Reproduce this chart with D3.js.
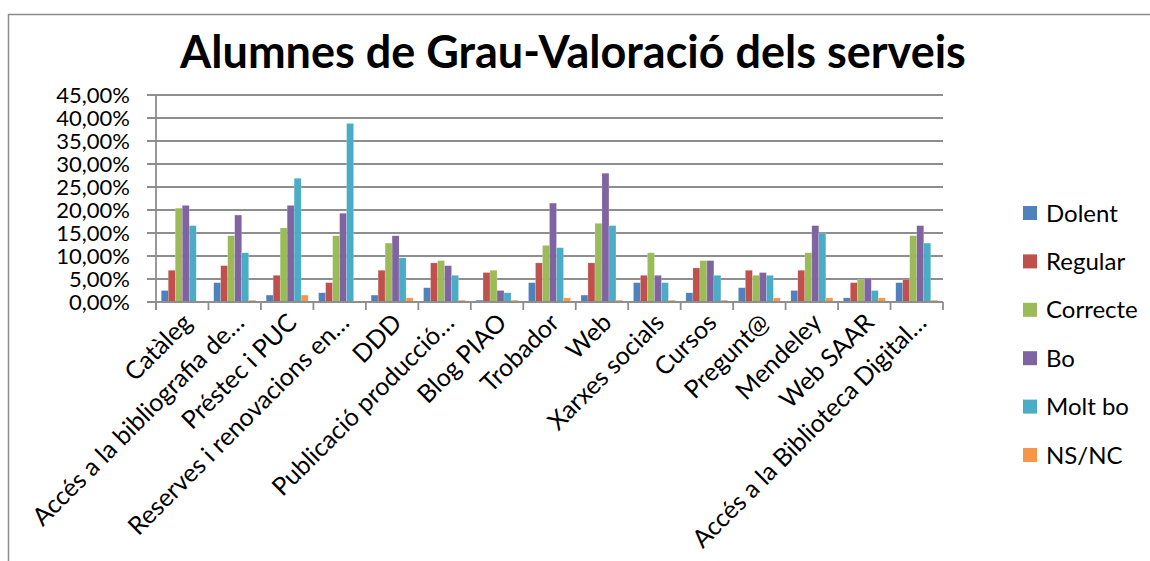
<!DOCTYPE html>
<html>
<head>
<meta charset="utf-8">
<script src="https://cdn.jsdelivr.net/npm/d3@7"></script>
<style>
  body { margin: 0; background: #fff; }
  svg { display: block; font-family: Lato, "Open Sans", sans-serif; }
</style>
</head>
<body>
<div id="grafic"></div>
<script>
// Dades llegides del gràfic (percentatges)
const serveis = ["Catàleg", "Accés a la bibliografia de…", "Préstec i PUC", "Reserves i renovacions en…",
  "DDD", "Publicació producció…", "Blog PIAO", "Trobador", "Web", "Xarxes socials", "Cursos",
  "Pregunt@", "Mendeley", "Web SAAR", "Accés a la Biblioteca Digital…"];
const valoracions = ["Dolent", "Regular", "Correcte", "Bo", "Molt bo", "NS/NC"];
const dolent   = [2.5, 4.2, 1.5, 2.0, 1.5, 3.1, 0.4, 4.2, 1.5, 4.2, 2.0, 3.1, 2.5, 0.9, 4.2];
const regular  = [6.9, 7.9, 5.8, 4.2, 6.9, 8.5, 6.4, 8.5, 8.5, 5.8, 7.4, 6.9, 6.9, 4.2, 4.9];
const correcte = [20.4, 14.4, 16.1, 14.4, 12.8, 9.0, 6.9, 12.3, 17.1, 10.7, 9.0, 5.8, 10.7, 4.9, 14.4];
const bo       = [21.0, 18.9, 21.0, 19.3, 14.4, 7.9, 2.5, 21.5, 28.0, 5.8, 9.0, 6.4, 16.6, 5.2, 16.6];
const moltBo   = [16.6, 10.7, 26.9, 38.8, 9.6, 5.8, 2.0, 11.8, 16.6, 4.2, 5.8, 5.8, 15.0, 2.5, 12.8];
const nsnc     = [0.0, 0.4, 1.5, 0.0, 0.9, 0.4, 0.4, 0.9, 0.4, 0.4, 0.4, 0.9, 0.9, 0.9, 0.4];
const yTicks = [0, 5, 10, 15, 20, 25, 30, 35, 40, 45];
const colors = ["#4F81BD", "#C0504D", "#9BBB59", "#8064A2", "#4BACC6", "#F79646"];

const series = [dolent, regular, correcte, bo, moltBo, nsnc];

const W = 1150, H = 561;
const margin = {top: 95, left: 156, right: 207, bottom: 259};
const width = W - margin.left - margin.right,
      height = H - margin.top - margin.bottom;

const svg = d3.select("#grafic").append("svg")
  .attr("width", W)
  .attr("height", H);

// vora del gràfic
svg.append("rect")
  .attr("x", 8.5).attr("y", 14.5)
  .attr("width", W).attr("height", H)
  .attr("fill", "none")
  .attr("stroke", "#8c8c8c")
  .attr("stroke-width", 1.5);

// títol
svg.append("text")
  .attr("x", 573).attr("y", 68)
  .attr("text-anchor", "middle")
  .style("font-size", "45px")
  .style("font-weight", "bold")
  .text("Alumnes de Grau-Valoració dels serveis");

const g = svg.append("g")
  .attr("transform", "translate(" + margin.left + "," + margin.top + ")");

const x = d3.scaleBand()
  .domain(serveis)
  .range([0, width])
  .paddingInner(0.2)
  .paddingOuter(0.1);

const x1 = d3.scaleBand()
  .domain(valoracions)
  .range([0, x.bandwidth()]);

const y = d3.scaleLinear()
  .domain([0, 45])
  .range([height, 0]);

// línies de la graella
g.append("g")
  .selectAll("line")
  .data(yTicks)
  .enter()
  .append("line")
  .attr("x1", -9)
  .attr("x2", width)
  .attr("y1", d => y(d))
  .attr("y2", d => y(d))
  .attr("stroke", "#8e8e8e")
  .attr("stroke-width", 1.8);

// etiquetes eix Y
g.append("g")
  .selectAll("text")
  .data(yTicks)
  .enter()
  .append("text")
  .attr("x", -26)
  .attr("y", d => y(d))
  .attr("dy", "0.36em")
  .attr("text-anchor", "end")
  .style("font-size", "22px")
  .text(d => d.toFixed(2).replace(".", ",") + "%");

// eix Y
g.append("line")
  .attr("x1", 0).attr("x2", 0)
  .attr("y1", 0).attr("y2", height + 8)
  .attr("stroke", "#8e8e8e")
  .attr("stroke-width", 1.8);

// barres
const grups = g.append("g")
  .selectAll("g")
  .data(serveis)
  .enter()
  .append("g")
  .attr("transform", d => "translate(" + x(d) + ",0)");

grups.selectAll("rect")
  .data((d, i) => valoracions.map((v, j) => ({v: v, val: series[j][i]})))
  .enter()
  .append("rect")
  .attr("x", d => x1(d.v))
  .attr("y", d => y(d.val))
  .attr("width", x1.bandwidth())
  .attr("height", d => height - y(d.val))
  .attr("fill", (d, j) => colors[j])
  .attr("stroke", "#ffffff")
  .attr("stroke-opacity", 0.35)
  .attr("stroke-width", 0.5);

// eix X amb marques entre categories
const pas = width / serveis.length;
g.append("line")
  .attr("x1", 0).attr("x2", width)
  .attr("y1", height).attr("y2", height)
  .attr("stroke", "#8e8e8e")
  .attr("stroke-width", 1.8);

g.append("g")
  .selectAll("line")
  .data(d3.range(serveis.length + 1))
  .enter()
  .append("line")
  .attr("x1", d => d * pas)
  .attr("x2", d => d * pas)
  .attr("y1", height)
  .attr("y2", height + 8)
  .attr("stroke", "#8e8e8e")
  .attr("stroke-width", 1.8);

// etiquetes eix X
g.append("g")
  .selectAll("text")
  .data(serveis)
  .enter()
  .append("text")
  .attr("text-anchor", "end")
  .attr("transform", d => "translate(" + (x(d) + x.bandwidth() / 2 + 5) + "," + (height + 16) + ") rotate(-45)")
  .attr("dy", "0.35em")
  .style("font-size", "25px")
  .text(d => d);

// llegenda
const llegenda = svg.append("g")
  .attr("transform", "translate(1023,213)");

const items = llegenda.selectAll("g")
  .data(valoracions)
  .enter()
  .append("g")
  .attr("transform", (d, i) => "translate(0," + (i * 48.4) + ")");

items.append("rect")
  .attr("x", 0).attr("y", -7)
  .attr("width", 14).attr("height", 14)
  .attr("fill", (d, i) => colors[i]);

items.append("text")
  .attr("x", 23)
  .attr("dy", "0.36em")
  .style("font-size", "24px")
  .text(d => d);
</script>
</body>
</html>
